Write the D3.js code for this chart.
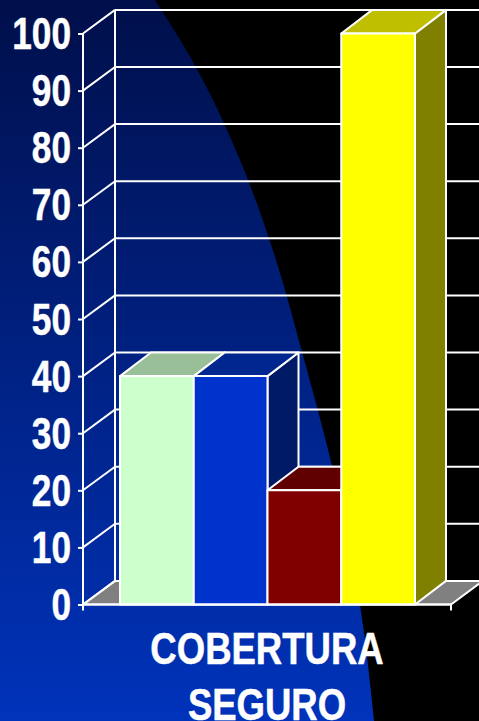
<!DOCTYPE html>
<html>
<head>
<meta charset="utf-8">
<script src="https://cdn.jsdelivr.net/npm/d3@7/dist/d3.min.js"></script>
<style>
  html, body { margin: 0; padding: 0; background: #000; overflow: hidden; }
  svg { display: block; }
  text { font-family: "Liberation Sans", Arial, sans-serif; font-weight: bold; fill: #fff; stroke: #fff; stroke-width: 0.5px; }
</style>
</head>
<body>
<div id="chart"></div>
<script>
const seriesNames = ["s1", "s2", "s3", "s4"];
const seriesValues = [40, 40, 20, 100];
const frontColors = ["#ccffcc", "#0033cc", "#800000", "#ffff00"];
const topColors = ["#99bf99", "#00268f", "#600000", "#bfbf00"];
const sideColors = ["#99bf99", "#001a66", "#600000", "#808000"];
const yTicks = d3.range(0, 101, 10);
const titleLines = ["COBERTURA", "SEGURO"];

const width = 479, height = 721;
const depth = { x: 32, y: -23.6 };   // 3d offset of the back wall
const barDepthX = 31;

const svg = d3.select("#chart").append("svg")
    .attr("width", width)
    .attr("height", height);

// Slide background: black with a blue curved panel on the left
const grad = svg.append("defs").append("linearGradient")
    .attr("id", "bg").attr("x1", 0).attr("y1", 0).attr("x2", 0).attr("y2", 1);
grad.append("stop").attr("offset", 0).attr("stop-color", "#000f4a");
grad.append("stop").attr("offset", 1).attr("stop-color", "#0033bb");

svg.append("rect").attr("width", width).attr("height", height).attr("fill", "#000");

const edge = [[155, 0], [192, 60], [240, 160], [276, 260], [302, 352], [332, 466], [360, 605], [374, 721]];
const edgePath = d3.line().curve(d3.curveMonotoneY)(edge);
svg.append("path")
    .attr("d", `M0,0L${edgePath.slice(1)}L0,${height}Z`)
    .attr("fill", "url(#bg)");

// Scales
const y = d3.scaleLinear().domain([0, 100]).range([604.5, 33.5]);
const x = d3.scaleBand().domain(seriesNames).range([120, 415]);
const frontLeft = 83, frontRight = 451;

const line = (g, x1, y1, x2, y2) => g.append("line")
    .attr("x1", x1).attr("y1", y1).attr("x2", x2).attr("y2", y2)
    .attr("stroke", "#fff").attr("stroke-width", 2);

// Floor
svg.append("path")
    .attr("d", d3.line()([
        [frontLeft, y(0)],
        [frontLeft + depth.x, y(0) + depth.y],
        [frontRight + depth.x, y(0) + depth.y],
        [frontRight, y(0)]
    ]) + "Z")
    .attr("fill", "#808080")
    .attr("stroke", "#fff")
    .attr("stroke-width", 2);

// Back wall grid and side wall diagonals
const grid = svg.append("g");
yTicks.forEach(t => {
    line(grid, frontLeft + depth.x, y(t) + depth.y, width, y(t) + depth.y);
    line(grid, frontLeft, y(t), frontLeft + depth.x, y(t) + depth.y);
});
line(grid, frontLeft + depth.x, y(100) + depth.y, frontLeft + depth.x, y(0) + depth.y);

// Y axis
const axis = svg.append("g")
    .attr("transform", `translate(${frontLeft},0)`)
    .call(d3.axisLeft(y).tickValues(yTicks).tickSize(5).tickPadding(0).tickFormat(d3.format("d")));
axis.selectAll("path, line").attr("stroke", "#fff").attr("stroke-width", 2);
axis.select(".domain").attr("d", `M0,${y(100)}V${y(0) + 6}`);
axis.selectAll("text")
    .attr("x", 0).attr("dy", null)
    .attr("text-anchor", "end")
    .style("font-size", "44px")
    .attr("transform", "translate(-12,15) scale(0.8,1)");

// Bars, back to front
const bars = svg.selectAll("g.bar")
    .data(seriesNames.map((name, i) => ({ name, value: seriesValues[i], i })))
    .enter().append("g").attr("class", "bar")
    .attr("stroke", "#fff").attr("stroke-width", 2).attr("stroke-linejoin", "round");

const bw = x.bandwidth();
bars.append("path") // side
    .attr("d", d => d3.line()([
        [x(d.name) + bw, y(d.value)],
        [x(d.name) + bw + barDepthX, y(d.value) + depth.y],
        [x(d.name) + bw + barDepthX, y(0) + depth.y],
        [x(d.name) + bw, y(0)]
    ]) + "Z")
    .attr("fill", d => sideColors[d.i]);
bars.append("path") // top
    .attr("d", d => d3.line()([
        [x(d.name), y(d.value)],
        [x(d.name) + barDepthX, y(d.value) + depth.y],
        [x(d.name) + bw + barDepthX, y(d.value) + depth.y],
        [x(d.name) + bw, y(d.value)]
    ]) + "Z")
    .attr("fill", d => topColors[d.i]);
bars.append("rect") // front
    .attr("x", d => x(d.name))
    .attr("y", d => y(d.value))
    .attr("width", bw)
    .attr("height", d => y(0) - y(d.value))
    .attr("fill", d => frontColors[d.i]);

// Front floor edge and end tick
line(svg, frontLeft, y(0), frontRight, y(0));
line(svg, frontRight, y(0), frontRight, y(0) + 6);

// Category title
svg.selectAll("text.title")
    .data(titleLines)
    .enter().append("text")
    .attr("class", "title")
    .attr("text-anchor", "middle")
    .attr("transform", (d, i) => `translate(267,${664 + i * 56}) scale(0.83,1)`)
    .style("font-size", "44px")
    .text(d => d);
</script>
</body>
</html>
